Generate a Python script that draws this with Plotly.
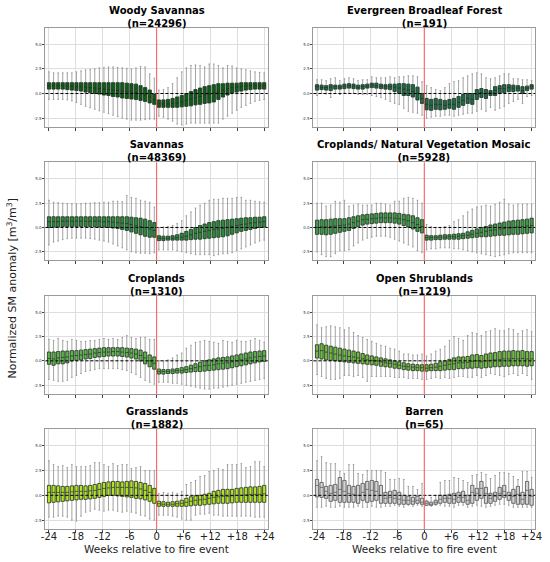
import plotly.graph_objects as go
from plotly.subplots import make_subplots

# weeks relative to the fire event (no week 0 box)
weeks = list(range(-24, 0)) + list(range(1, 25))
tick_vals = [-24, -18, -12, -6, 0, 6, 12, 18, 24]
tick_text = ["-24", "-18", "-12", "-6", "0", "+6", "+12", "+18", "+24"]

titles = ["Woody Savannas", "Evergreen Broadleaf Forest", "Savannas",
          "Croplands/ Natural Vegetation Mosaic", "Croplands", "Open Shrublands",
          "Grasslands", "Barren"]
counts = [24296, 191, 48369, 5928, 1310, 1219, 1882, 65]
fill_colors = ["#0b5e16", "#1b6b48", "#2b8a3e", "#3c9a48", "#5bb64a", "#6fbc3e", "#b4e41e", "#d3d3d3"]

# Woody Savannas
ws_q3 = [1.1, 1.1, 1.1, 1.1, 1.1, 1.1, 1.1, 1.1, 1.1, 1.1, 1.1, 1.1, 1.1, 1.1, 1.1, 1.1, 1.1, 1.05, 1.0, 0.95, 0.8, 0.6, 0.35, -0.05,
         -0.65, -0.65, -0.6, -0.5, -0.35, -0.2, 0.0, 0.2, 0.4, 0.55, 0.7, 0.8, 0.9, 1.0, 1.0, 1.05, 1.05, 1.05, 1.1, 1.1, 1.1, 1.1, 1.1, 1.1]
ws_med = [0.8, 0.8, 0.8, 0.8, 0.75, 0.75, 0.7, 0.7, 0.65, 0.6, 0.55, 0.5, 0.45, 0.4, 0.35, 0.3, 0.25, 0.2, 0.15, 0.1, 0.0, -0.15, -0.35, -0.6,
          -1.05, -1.05, -1.05, -1.0, -0.95, -0.85, -0.7, -0.55, -0.4, -0.3, -0.15, -0.05, 0.05, 0.2, 0.35, 0.5, 0.6, 0.65, 0.7, 0.75, 0.8, 0.8, 0.8, 0.8]
ws_q1 = [0.45, 0.45, 0.45, 0.45, 0.4, 0.35, 0.3, 0.25, 0.15, 0.1, 0.0, -0.05, -0.15, -0.2, -0.3, -0.35, -0.45, -0.5, -0.55, -0.6, -0.7, -0.8, -0.95, -1.1,
         -1.4, -1.4, -1.4, -1.4, -1.4, -1.35, -1.3, -1.25, -1.15, -1.1, -1.0, -0.95, -0.85, -0.6, -0.35, -0.15, 0.05, 0.15, 0.25, 0.35, 0.4, 0.45, 0.45, 0.45]
ws_hi = [2.2, 2.1, 2.1, 2.1, 2.1, 2.1, 2.2, 2.3, 2.4, 2.45, 2.5, 2.6, 2.65, 2.7, 2.7, 2.65, 2.6, 2.55, 2.5, 2.6, 2.75, 2.7, 2.0, 1.55,
         0.35, 0.4, 0.6, 1.0, 1.6, 2.2, 2.6, 2.85, 2.9, 2.85, 2.7, 3.0, 3.0, 2.85, 2.6, 2.85, 2.8, 2.6, 2.5, 2.4, 2.3, 2.2, 2.15, 2.1]
ws_lo = [-0.6, -0.6, -0.6, -0.6, -0.65, -0.75, -0.9, -1.1, -1.3, -1.45, -1.6, -1.75, -1.9, -2.05, -2.2, -2.35, -2.5, -2.6, -2.7, -2.7, -2.7, -2.65, -2.6, -2.6,
         -2.3, -2.4, -2.6, -2.8, -3.1, -3.2, -3.1, -3.0, -3.0, -3.0, -3.0, -3.0, -3.0, -3.0, -2.6, -2.3, -2.0, -1.7, -1.4, -1.2, -1.0, -0.8, -0.7, -0.6]

# Evergreen Broadleaf Forest
ebf_q3 = [0.9, 0.85, 0.8, 0.9, 0.85, 0.85, 0.95, 1.0, 0.95, 0.85, 0.9, 0.95, 1.05, 1.05, 0.95, 0.9, 0.95, 0.95, 1.0, 1.0, 0.95, 0.9, 0.65, 0.0,
          -0.5, -0.6, -0.5, -0.6, -0.7, -0.6, -0.5, -0.3, -0.1, 0.0, 0.0, 0.4, 0.5, 0.4, 0.3, 0.7, 0.8, 0.9, 0.9, 0.85, 0.8, 0.7, 0.75, 0.9]
ebf_med = [0.7, 0.6, 0.6, 0.65, 0.7, 0.65, 0.75, 0.8, 0.75, 0.65, 0.7, 0.75, 0.85, 0.8, 0.75, 0.7, 0.7, 0.65, 0.55, 0.45, 0.35, 0.2, 0.0, -0.5,
           -1.1, -1.2, -1.1, -1.1, -1.2, -1.1, -1.1, -0.9, -0.7, -0.5, -0.6, -0.1, 0.1, 0.0, 0.1, 0.3, 0.5, 0.5, 0.6, 0.55, 0.55, 0.3, 0.55, 0.7]
ebf_q1 = [0.35, 0.4, 0.35, 0.3, 0.45, 0.45, 0.5, 0.55, 0.5, 0.45, 0.45, 0.55, 0.6, 0.55, 0.5, 0.45, 0.4, 0.2, 0.0, -0.2, -0.2, -0.35, -0.65, -1.0,
          -1.65, -1.7, -1.6, -1.65, -1.6, -1.5, -1.6, -1.4, -1.2, -1.0, -1.1, -0.6, -0.4, -0.5, -0.2, -0.2, 0.0, 0.1, 0.2, 0.2, 0.25, 0.0, 0.3, 0.45]
ebf_hi = [1.4, 1.4, 1.3, 1.5, 1.6, 1.3, 1.5, 1.6, 1.5, 1.3, 1.4, 1.4, 1.7, 1.6, 1.6, 1.6, 1.7, 1.6, 1.7, 1.7, 1.8, 1.8, 1.7, 1.2,
          0.8, 0.6, 0.4, 0.3, 0.6, 1.0, 1.2, 1.3, 1.6, 1.8, 2.0, 2.1, 2.0, 1.6, 1.5, 1.6, 1.8, 2.0, 2.0, 1.5, 1.5, 1.4, 1.4, 1.3]
ebf_lo = [-0.2, 0.0, -0.05, -0.4, 0.0, -0.1, 0.1, 0.0, 0.0, -0.1, -0.1, -0.1, -0.2, -0.3, -0.4, -0.6, -0.8, -1.0, -1.1, -1.5, -1.8, -1.9, -2.0, -2.2,
          -2.5, -2.4, -2.3, -2.3, -2.2, -2.2, -2.3, -2.2, -2.1, -2.0, -2.0, -1.8, -1.6, -1.8, -1.4, -1.7, -1.5, -1.3, -1.0, -0.8, -0.6, -1.0, -0.3, -0.2]

# Savannas
sav_q3 = [1.1, 1.1, 1.1, 1.1, 1.1, 1.1, 1.1, 1.1, 1.1, 1.1, 1.1, 1.1, 1.1, 1.1, 1.1, 1.1, 1.1, 1.1, 1.05, 1.0, 0.95, 0.85, 0.7, 0.5,
          -0.85, -0.9, -0.9, -0.85, -0.75, -0.6, -0.4, -0.2, 0.0, 0.2, 0.35, 0.5, 0.6, 0.7, 0.75, 0.8, 0.85, 0.9, 0.95, 1.0, 1.0, 1.05, 1.05, 1.1]
sav_med = [0.6, 0.6, 0.6, 0.65, 0.65, 0.65, 0.65, 0.65, 0.65, 0.65, 0.65, 0.65, 0.6, 0.6, 0.55, 0.5, 0.45, 0.4, 0.3, 0.2, 0.1, 0.0, -0.15, -0.3,
           -1.1, -1.15, -1.1, -1.1, -1.05, -1.0, -0.9, -0.75, -0.6, -0.5, -0.4, -0.3, -0.2, -0.15, -0.1, 0.0, 0.1, 0.2, 0.3, 0.35, 0.45, 0.5, 0.55, 0.6]
sav_q1 = [0.0, 0.05, 0.05, 0.1, 0.1, 0.1, 0.1, 0.1, 0.1, 0.1, 0.1, 0.05, 0.05, 0.0, -0.05, -0.1, -0.2, -0.3, -0.45, -0.6, -0.75, -0.9, -1.0, -1.0,
          -1.35, -1.35, -1.3, -1.3, -1.3, -1.3, -1.3, -1.25, -1.2, -1.2, -1.15, -1.1, -1.05, -1.0, -0.95, -0.85, -0.7, -0.55, -0.4, -0.3, -0.2, -0.1, 0.0, 0.05]
sav_hi = [2.8, 2.6, 2.55, 2.5, 2.45, 2.45, 2.45, 2.45, 2.5, 2.5, 2.55, 2.55, 2.6, 2.6, 2.7, 2.7, 2.65, 3.3, 3.1, 3.0, 2.8, 2.7, 2.6, 2.1,
          0.0, 0.05, 0.1, 0.2, 0.4, 0.7, 1.2, 1.6, 2.0, 2.3, 2.5, 2.8, 2.9, 2.9, 3.0, 3.0, 3.0, 3.1, 3.1, 2.8, 2.8, 2.7, 2.65, 2.6]
sav_lo = [-1.8, -1.5, -1.4, -1.25, -1.15, -1.1, -1.1, -1.1, -1.1, -1.15, -1.2, -1.3, -1.4, -1.5, -1.7, -1.9, -2.1, -2.3, -2.5, -2.6, -2.65, -2.65, -2.7, -2.6,
          -2.3, -2.3, -2.3, -2.3, -2.4, -2.5, -2.6, -2.7, -2.8, -2.8, -2.8, -2.8, -2.9, -2.8, -2.7, -2.7, -2.6, -2.4, -2.2, -2.0, -1.8, -1.6, -1.4, -1.3]

# Croplands/ Natural Vegetation Mosaic
cnv_q3 = [0.75, 0.8, 0.8, 0.85, 0.9, 0.9, 0.9, 1.0, 1.1, 1.2, 1.3, 1.35, 1.4, 1.45, 1.5, 1.5, 1.5, 1.5, 1.45, 1.35, 1.3, 1.2, 1.0, 0.8,
          -0.8, -0.85, -0.85, -0.8, -0.75, -0.75, -0.7, -0.65, -0.6, -0.45, -0.3, -0.15, 0.0, 0.1, 0.25, 0.35, 0.45, 0.55, 0.65, 0.7, 0.75, 0.8, 0.85, 0.95]
cnv_med = [0.0, 0.05, 0.05, 0.1, 0.15, 0.2, 0.25, 0.35, 0.5, 0.65, 0.8, 0.85, 0.9, 0.95, 1.0, 1.0, 1.0, 0.95, 0.9, 0.8, 0.7, 0.5, 0.3, 0.1,
           -1.05, -1.05, -1.05, -1.0, -1.0, -0.95, -0.95, -0.9, -0.85, -0.8, -0.7, -0.6, -0.5, -0.4, -0.3, -0.25, -0.15, -0.1, -0.05, 0.0, 0.05, 0.1, 0.15, 0.2]
cnv_q1 = [-0.7, -0.7, -0.75, -0.7, -0.6, -0.5, -0.4, -0.3, -0.1, 0.1, 0.25, 0.35, 0.4, 0.45, 0.5, 0.5, 0.5, 0.45, 0.35, 0.2, 0.05, -0.15, -0.4, -0.55,
          -1.3, -1.3, -1.25, -1.25, -1.2, -1.2, -1.2, -1.2, -1.15, -1.1, -1.05, -1.0, -0.95, -0.95, -0.9, -0.85, -0.8, -0.8, -0.75, -0.7, -0.7, -0.65, -0.6, -0.55]
cnv_hi = [2.5, 2.5, 2.2, 2.3, 2.7, 2.6, 2.8, 2.2, 2.3, 2.4, 2.3, 2.3, 2.3, 2.5, 2.5, 2.4, 2.3, 2.7, 2.7, 3.0, 3.1, 3.0, 2.8, 2.5,
          0.3, 0.1, 0.0, 0.0, 0.1, 0.2, 0.6, 0.8, 1.2, 1.6, 1.9, 2.1, 2.2, 2.3, 2.2, 2.4, 2.6, 2.9, 2.4, 2.3, 2.4, 2.4, 2.4, 2.4]
cnv_lo = [-2.5, -2.8, -3.0, -3.0, -2.7, -2.4, -2.4, -2.3, -1.9, -1.6, -1.3, -1.1, -1.0, -0.9, -0.9, -0.9, -1.0, -1.2, -1.4, -1.6, -1.8, -2.0, -2.4, -2.6,
          -2.3, -2.2, -2.2, -2.1, -2.1, -2.1, -2.2, -2.2, -2.3, -2.4, -2.5, -2.6, -2.7, -2.8, -2.9, -3.0, -2.9, -2.8, -2.7, -2.6, -2.6, -2.6, -2.6, -2.6]

# Croplands
crp_q3 = [0.9, 0.9, 0.95, 1.0, 1.0, 1.05, 1.05, 1.1, 1.15, 1.2, 1.25, 1.3, 1.35, 1.35, 1.35, 1.35, 1.35, 1.3, 1.25, 1.2, 1.1, 0.9, 0.6, 0.4,
          -0.85, -0.9, -0.9, -0.85, -0.8, -0.7, -0.6, -0.45, -0.3, -0.15, 0.0, 0.1, 0.2, 0.3, 0.35, 0.4, 0.5, 0.6, 0.7, 0.8, 0.9, 0.95, 1.0, 1.05]
crp_med = [0.25, 0.2, 0.3, 0.35, 0.4, 0.5, 0.55, 0.6, 0.65, 0.7, 0.8, 0.85, 0.9, 0.9, 0.95, 0.95, 0.9, 0.85, 0.8, 0.7, 0.55, 0.3, 0.0, -0.25,
           -1.1, -1.1, -1.1, -1.05, -1.0, -1.0, -0.9, -0.8, -0.7, -0.6, -0.5, -0.45, -0.4, -0.3, -0.25, -0.2, -0.1, 0.0, 0.1, 0.2, 0.3, 0.4, 0.45, 0.5]
crp_q1 = [-0.35, -0.45, -0.3, -0.3, -0.2, 0.0, 0.05, 0.1, 0.2, 0.25, 0.35, 0.4, 0.45, 0.5, 0.5, 0.5, 0.45, 0.4, 0.3, 0.2, 0.0, -0.3, -0.6, -0.85,
          -1.35, -1.35, -1.3, -1.3, -1.25, -1.25, -1.2, -1.15, -1.1, -1.1, -1.05, -1.0, -0.95, -0.9, -0.85, -0.8, -0.7, -0.6, -0.5, -0.4, -0.3, -0.2, -0.1, -0.05]
crp_hi = [2.2, 2.1, 2.3, 2.1, 2.0, 2.2, 2.1, 2.0, 2.0, 2.1, 2.1, 2.2, 2.3, 2.2, 2.3, 2.2, 2.4, 2.6, 2.4, 2.3, 2.4, 2.4, 2.2, 2.2,
          0.0, 0.0, 0.1, 0.3, 0.6, 0.8, 1.3, 1.6, 1.9, 2.0, 2.1, 2.0, 1.9, 1.8, 2.1, 2.0, 1.9, 2.1, 2.0, 2.0, 2.1, 2.3, 2.1, 1.9]
crp_lo = [-1.9, -2.0, -2.1, -2.1, -2.0, -1.7, -1.5, -1.3, -1.1, -1.0, -0.9, -0.8, -0.8, -0.8, -0.8, -0.8, -0.9, -1.0, -1.2, -1.4, -1.7, -2.0, -2.2, -2.4,
          -2.2, -2.2, -2.2, -2.3, -2.3, -2.4, -2.5, -2.6, -2.7, -2.8, -2.9, -2.9, -2.8, -2.8, -2.7, -2.6, -2.5, -2.4, -2.3, -2.2, -2.1, -2.0, -1.9, -1.8]

# Open Shrublands
osh_q3 = [1.65, 1.75, 1.6, 1.5, 1.4, 1.3, 1.2, 1.1, 1.0, 0.9, 0.75, 0.6, 0.5, 0.4, 0.3, 0.2, 0.1, 0.0, -0.1, -0.2, -0.3, -0.35, -0.4, -0.4,
          -0.4, -0.35, -0.25, -0.1, 0.0, 0.15, 0.3, 0.4, 0.4, 0.45, 0.6, 0.65, 0.55, 0.7, 0.8, 0.85, 0.95, 1.0, 1.0, 1.05, 1.0, 1.05, 0.95, 0.95]
osh_med = [1.0, 1.05, 0.9, 0.8, 0.7, 0.6, 0.5, 0.45, 0.4, 0.3, 0.2, 0.1, 0.05, 0.0, -0.1, -0.2, -0.25, -0.35, -0.45, -0.55, -0.6, -0.65, -0.7, -0.7,
           -0.75, -0.7, -0.65, -0.55, -0.45, -0.35, -0.3, -0.2, -0.2, -0.15, -0.05, 0.0, -0.1, 0.0, 0.05, 0.1, 0.15, 0.2, 0.2, 0.25, 0.2, 0.25, 0.2, 0.2]
osh_q1 = [0.3, 0.2, 0.1, 0.05, 0.0, -0.05, -0.1, -0.15, -0.2, -0.25, -0.3, -0.35, -0.4, -0.45, -0.55, -0.6, -0.65, -0.75, -0.8, -0.9, -0.95, -1.0, -1.0, -1.05,
          -1.05, -1.0, -1.0, -1.0, -0.95, -0.9, -0.9, -0.8, -0.8, -0.75, -0.75, -0.7, -0.75, -0.7, -0.65, -0.6, -0.6, -0.55, -0.55, -0.5, -0.5, -0.5, -0.55, -0.5]
osh_hi = [3.7, 3.4, 3.5, 3.6, 3.5, 3.4, 3.2, 3.4, 2.9, 2.6, 2.4, 2.2, 2.0, 1.8, 1.6, 1.5, 1.3, 1.2, 1.0, 0.7, 0.7, 0.6, 0.6, 0.7,
          0.5, 0.7, 1.0, 1.2, 1.5, 2.1, 2.5, 2.3, 2.1, 2.6, 2.9, 2.8, 2.6, 3.0, 3.1, 3.3, 3.1, 3.1, 3.3, 3.2, 2.8, 3.1, 3.2, 3.0]
osh_lo = [-1.4, -1.6, -1.8, -1.9, -1.9, -1.8, -1.5, -1.5, -1.6, -1.5, -1.7, -2.1, -1.6, -1.6, -1.6, -1.6, -1.6, -1.7, -1.7, -1.7, -1.8, -1.8, -1.8, -1.9,
          -1.9, -1.8, -1.7, -1.8, -1.7, -1.8, -1.7, -1.6, -1.6, -1.7, -1.7, -1.5, -1.7, -1.5, -1.3, -1.4, -1.5, -1.6, -1.4, -1.3, -1.5, -1.3, -1.5, -1.9]

# Grasslands
gra_q3 = [1.0, 1.0, 0.95, 0.9, 0.9, 0.95, 1.0, 1.0, 0.95, 1.0, 1.1, 1.2, 1.3, 1.35, 1.4, 1.4, 1.35, 1.4, 1.45, 1.4, 1.3, 1.2, 1.0, 0.7,
          -0.6, -0.65, -0.7, -0.65, -0.6, -0.5, -0.3, -0.15, -0.05, 0.0, 0.1, 0.2, 0.4, 0.5, 0.6, 0.6, 0.6, 0.7, 0.75, 0.8, 0.85, 0.85, 0.9, 1.0]
gra_med = [0.3, 0.3, 0.3, 0.3, 0.3, 0.35, 0.4, 0.4, 0.4, 0.45, 0.5, 0.6, 0.7, 0.75, 0.8, 0.8, 0.8, 0.8, 0.8, 0.75, 0.65, 0.5, 0.3, 0.0,
           -0.85, -0.9, -0.9, -0.9, -0.85, -0.8, -0.7, -0.6, -0.5, -0.45, -0.4, -0.3, -0.2, -0.15, -0.1, -0.1, -0.05, 0.0, 0.0, 0.05, 0.1, 0.1, 0.1, 0.15]
gra_q1 = [-0.75, -0.7, -0.65, -0.6, -0.55, -0.5, -0.45, -0.4, -0.4, -0.35, -0.3, -0.2, -0.1, 0.0, 0.0, -0.05, -0.1, -0.15, -0.2, -0.3, -0.35, -0.45, -0.6, -0.8,
          -1.1, -1.1, -1.1, -1.1, -1.1, -1.1, -1.1, -1.05, -1.0, -1.0, -0.95, -0.9, -0.85, -0.8, -0.8, -0.8, -0.75, -0.7, -0.7, -0.7, -0.7, -0.7, -0.7, -0.7]
gra_hi = [3.5, 3.1, 2.9, 3.0, 2.8, 3.1, 2.9, 2.9, 2.9, 3.0, 3.3, 3.3, 3.1, 2.9, 3.2, 3.0, 3.1, 3.1, 2.7, 2.8, 2.9, 2.5, 2.5, 2.5,
          0.2, 0.3, 0.2, 0.3, 0.2, 0.4, 1.1, 1.3, 1.5, 1.9, 2.0, 2.4, 2.5, 2.7, 2.6, 3.1, 3.1, 3.1, 3.2, 2.8, 2.9, 3.4, 3.4, 2.9]
gra_lo = [-2.2, -2.2, -2.1, -2.1, -2.2, -2.5, -2.6, -2.1, -1.7, -1.6, -1.4, -1.5, -1.6, -1.5, -1.5, -1.6, -1.7, -1.6, -1.7, -1.8, -2.0, -2.1, -2.4, -2.5,
          -2.0, -2.0, -2.0, -2.1, -2.2, -2.4, -2.5, -2.5, -2.0, -1.9, -1.9, -1.8, -2.0, -2.0, -2.1, -2.1, -2.1, -2.1, -2.1, -2.1, -2.1, -2.2, -2.2, -2.2]

# Barren
bar_q3 = [1.6, 1.3, 0.9, 1.0, 1.1, 1.8, 1.5, 1.0, 0.9, 1.0, 1.2, 1.4, 1.5, 1.4, 1.0, 0.3, 0.4, 0.5, 0.3, 0.0, -0.1, -0.2, -0.1, -0.3,
          -0.6, -0.7, -0.5, 0.0, 0.0, 0.1, 0.2, 0.3, 0.4, 0.0, 1.0, 0.7, 1.4, 0.8, 0.2, 0.3, 0.8, 1.0, 0.3, 0.6, 0.9, 0.3, 1.4, 0.6]
bar_med = [1.0, 0.8, 0.4, 0.2, 0.3, 0.6, 0.4, 0.2, 0.1, 0.0, 0.3, 0.6, 0.5, 0.4, 0.0, -0.3, -0.2, -0.3, -0.4, -0.5, -0.5, -0.6, -0.5, -0.7,
           -0.8, -0.9, -0.7, -0.4, -0.3, -0.3, -0.4, -0.2, -0.2, -0.5, 0.3, 0.2, 0.7, 0.2, -0.3, -0.1, 0.2, 0.4, 0.0, -0.1, 0.1, -0.4, 0.5, -0.1]
bar_q1 = [-0.15, -0.2, -0.3, -0.6, -0.5, -0.7, -0.7, -0.7, -0.7, -0.8, -0.5, -0.7, -0.6, -0.5, -0.8, -0.8, -0.8, -0.8, -0.9, -0.9, -0.9, -0.9, -0.8, -0.9,
          -1.0, -1.0, -0.9, -0.8, -0.7, -0.8, -0.8, -0.7, -0.7, -0.9, -0.8, -0.5, -0.3, -0.8, -0.8, -0.6, -0.4, -0.2, -0.5, -0.8, -0.9, -0.9, -0.9, -1.0]
bar_hi = [3.5, 3.9, 3.3, 3.2, 3.2, 2.4, 2.2, 3.1, 3.1, 2.2, 2.1, 2.5, 2.5, 2.5, 2.5, 2.3, 1.6, 1.6, 1.7, 1.6, 0.9, 0.9, 0.6, 1.2,
          -0.5, -0.2, 0.0, 1.3, 1.5, 1.5, 1.8, 1.7, 1.5, 1.3, 2.0, 2.1, 2.3, 2.1, 1.7, 2.0, 2.3, 2.3, 2.2, 1.9, 1.6, 2.4, 2.4, 1.8]
bar_lo = [-1.2, -1.2, -1.1, -1.2, -1.2, -1.1, -1.2, -1.2, -1.2, -1.1, -1.2, -1.2, -1.1, -1.2, -1.2, -1.1, -1.1, -1.0, -1.1, -1.2, -1.0, -1.1, -1.0, -1.1,
          -1.0, -1.1, -1.0, -1.0, -1.1, -1.1, -1.2, -1.0, -1.0, -1.2, -1.1, -1.0, -1.1, -1.2, -1.1, -1.0, -0.9, -0.9, -1.0, -1.2, -1.2, -1.2, -1.2, -1.2]

panels = [
    (ws_q1, ws_med, ws_q3, ws_lo, ws_hi),
    (ebf_q1, ebf_med, ebf_q3, ebf_lo, ebf_hi),
    (sav_q1, sav_med, sav_q3, sav_lo, sav_hi),
    (cnv_q1, cnv_med, cnv_q3, cnv_lo, cnv_hi),
    (crp_q1, crp_med, crp_q3, crp_lo, crp_hi),
    (osh_q1, osh_med, osh_q3, osh_lo, osh_hi),
    (gra_q1, gra_med, gra_q3, gra_lo, gra_hi),
    (bar_q1, bar_med, bar_q3, bar_lo, bar_hi),
]

# 48 boxes spread evenly between the -24 and +24 ticks
n = len(weeks)
pos = [-24 + i * 48 / (n - 1) for i in range(n)]

fig = make_subplots(rows=4, cols=2)

for k, (q1, med, q3, lo, hi) in enumerate(panels):
    r, c = k // 2 + 1, k % 2 + 1
    edge = "#555555" if k == 7 else "#1f2f1f"
    # whiskers (grey)
    fig.add_trace(go.Box(x=pos, q1=q1, median=med, q3=q3, lowerfence=lo, upperfence=hi,
                         width=0.7, whiskerwidth=0.5, boxpoints=False,
                         line=dict(color="#8c8c8c", width=0.8),
                         fillcolor="rgba(0,0,0,0)", hoverinfo="skip", showlegend=False),
                  row=r, col=c)
    # boxes
    fig.add_trace(go.Box(x=pos, q1=q1, median=med, q3=q3, lowerfence=q1, upperfence=q3,
                         width=0.7, whiskerwidth=0, boxpoints=False,
                         line=dict(color=edge, width=0.7), fillcolor=fill_colors[k],
                         showlegend=False, name=titles[k]),
                  row=r, col=c)

x_domains = [[0.0751, 0.4884], [0.5733, 0.9855]]
y_domains = [[0.774, 0.951], [0.5365, 0.711], [0.299, 0.474], [0.0587, 0.2367]]

annotations = []
for k in range(8):
    r, c = k // 2, k % 2
    ax = "" if k == 0 else str(k + 1)
    last_row = r == 3
    fig.layout["xaxis" + ax].update(
        domain=x_domains[c], range=[-24.8, 24.8], tickvals=tick_vals, ticktext=tick_text,
        showticklabels=last_row, ticks="outside", ticklen=3, tickcolor="#444",
        tickfont=dict(size=10, color="#222"), ticklabelstandoff=-5,
        showgrid=True, gridcolor="#dedede", gridwidth=0.8, zeroline=False,
        showline=True, linecolor="#9a9a9a", linewidth=1, mirror=True)
    fig.layout["yaxis" + ax].update(
        domain=y_domains[r], range=[-3.4, 6.7], tickvals=[-2.5, 0, 2.5, 5.0],
        ticktext=["-2.5", "0.0", "2.5", "5.0"], ticks="outside", ticklen=2, tickcolor="#444",
        tickfont=dict(size=4, color="#333"),
        showgrid=True, gridcolor="#dedede", gridwidth=0.8, zeroline=False,
        showline=True, linecolor="#9a9a9a", linewidth=1, mirror=True)
    xr, yr = "x" + ax, "y" + ax
    fig.add_shape(type="line", xref=xr + " domain", yref=yr, x0=0, x1=1, y0=0, y1=0,
                  line=dict(color="black", width=1, dash="3px,2px"), layer="above")
    fig.add_shape(type="line", xref=xr, yref=yr + " domain", x0=0, x1=0, y0=0, y1=1,
                  line=dict(color="rgba(255,70,70,0.75)", width=1.2), layer="above")
    annotations.append(dict(
        text=f"<b>{titles[k]}</b><br><b>(n={counts[k]})</b>",
        x=sum(x_domains[c]) / 2, y=y_domains[r][1], xref="paper", yref="paper",
        xanchor="center", yanchor="bottom", yshift=-3, showarrow=False,
        font=dict(size=10, color="black")))

annotations.append(dict(text="Normalized SM anomaly [m<sup>3</sup>/m<sup>3</sup>]",
                        x=0.014, y=0.486, xref="paper", yref="paper", textangle=-90,
                        xanchor="center", yanchor="middle",
                        showarrow=False, font=dict(size=11, color="#222")))
for c in range(2):
    annotations.append(dict(text="Weeks relative to fire event", x=sum(x_domains[c]) / 2,
                            y=0.024, xref="paper", yref="paper", xanchor="center",
                            yanchor="middle", showarrow=False,
                            font=dict(size=10.5, color="#222")))

fig.update_layout(
    width=550, height=562, margin=dict(l=0, r=0, t=0, b=0),
    paper_bgcolor="white", plot_bgcolor="white", boxmode="overlay",
    font=dict(family="DejaVu Sans"), annotations=annotations, showlegend=False)

# drop the default page margin so the figure fills the window exactly
fig.write_html("out.html", config={"displayModeBar": False},
               post_script="document.body.style.margin='0px';")
